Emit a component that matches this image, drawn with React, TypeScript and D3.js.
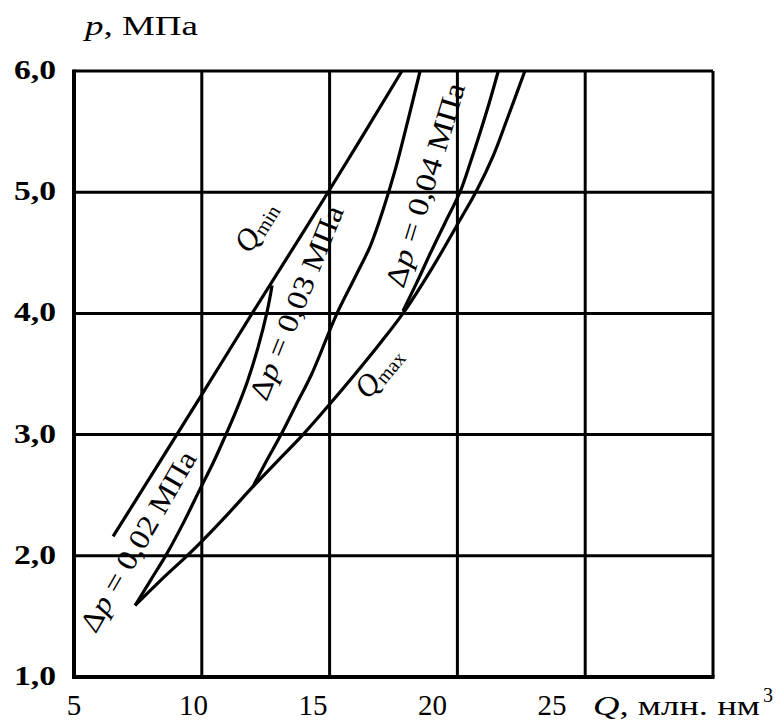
import * as d3 from "d3";

// curves, [Q, p]
const Q_MIN: [number, number][] = [
  [6.53, 2.16], [10, 3.33], [12, 4.01], [15, 5.02], [17.83, 6.0],
];
const DP_002: [number, number][] = [
  [7.39, 1.59], [8.0, 1.8], [8.64, 2.02], [9.3, 2.28], [9.93, 2.55], [10.45, 2.77], [10.9, 2.98],
  [11.35, 3.2], [11.77, 3.43], [12.2, 3.72], [12.55, 4.01], [12.75, 4.23],
];
const DP_003: [number, number][] = [
  [12.0, 2.57], [12.55, 2.79], [13.1, 3.0], [13.7, 3.25], [14.3, 3.5], [15.29, 4.0], [16.0, 4.3],
  [16.6, 4.56], [17.1, 4.86], [17.56, 5.18], [18.05, 5.58], [18.54, 6.0],
];
const DP_004: [number, number][] = [
  [17.87, 4.02], [18.4, 4.25], [18.95, 4.5], [19.5, 4.74], [20.1, 5.0], [20.5, 5.24], [20.9, 5.5],
  [21.25, 5.74], [21.6, 6.0],
];
const Q_MAX: [number, number][] = [
  [7.39, 1.59], [8.4, 1.8], [9.42, 2.0], [10, 2.12], [11, 2.34], [12, 2.57], [13, 2.79], [13.96, 3.0],
  [15, 3.25], [16, 3.5], [17, 3.76], [17.87, 4.0], [19, 4.37], [20.1, 4.77], [20.77, 5.02],
  [21.4, 5.3], [21.94, 5.6], [22.64, 6.0],
];

const GRID_Q = [5, 10, 15, 20, 25, 30];
const GRID_P = [1, 2, 3, 4, 5, 6];
const TICK_Q = [5, 10, 15, 20, 25];

// labels along the curves: value, anchor in data units, angle
const DP_LABELS = [
  { value: "0,02", q: 7.5, p: 2.12, angle: -60, len: 204 },
  { value: "0,03", q: 13.69, p: 4.09, angle: -68, len: 207 },
  { value: "0,04", q: 18.73, p: 5.06, angle: -73, len: 212 },
];
const Q_LABELS = [
  { main: "Q", sub: "min", q: 12.08, p: 4.72, angle: -58 },
  { main: "Q", sub: "max", q: 16.89, p: 3.52, angle: -50 },
];

const FONT = "'Liberation Serif', 'Times New Roman', serif";

export default function App() {
  const width = 779;
  const height = 722;
  const plot = { left: 74, right: 713, top: 71, bottom: 677 };

  const x = d3.scaleLinear().domain([5, 30]).range([plot.left, plot.right]);
  const y = d3.scaleLinear().domain([1, 6]).range([plot.bottom, plot.top]);
  // the printed numbers under the axis sit a bit off the grid lines
  const tickX = d3.scaleLinear().domain([5, 25]).range([74, 552]);

  const line = d3
    .line<[number, number]>()
    .x((d) => x(d[0]))
    .y((d) => y(d[1]))
    .curve(d3.curveCatmullRom.alpha(0.5));

  const curves = [Q_MIN, DP_002, DP_003, DP_004, Q_MAX];

  return (
    <svg
      width={width}
      height={height}
      style={{ position: "absolute", left: 0, top: 0, background: "#fff" }}
      fontFamily={FONT}
    >
      <rect width={width} height={height} fill="#fff" />

      {/* grid */}
      {GRID_Q.map((q) => (
        <line key={"gq" + q} x1={x(q)} x2={x(q)} y1={y(1)} y2={y(6)} stroke="#000" strokeWidth={3} />
      ))}
      {GRID_P.map((p) => (
        <line key={"gp" + p} x1={x(5)} x2={x(30)} y1={y(p)} y2={y(p)} stroke="#000" strokeWidth={3} />
      ))}
      {/* heavier frame on left and bottom */}
      <line x1={x(5)} x2={x(5)} y1={y(1) + 2} y2={y(6) - 1.5} stroke="#000" strokeWidth={4} />
      <line x1={x(5) - 2} x2={x(30) + 1.5} y1={y(1)} y2={y(1)} stroke="#000" strokeWidth={4} />

      {/* curves */}
      {curves.map((c, i) => (
        <path key={i} d={line(c) ?? ""} fill="none" stroke="#000" strokeWidth={3.2} strokeLinejoin="round" />
      ))}

      {/* y tick labels */}
      {GRID_P.map((p) => (
        <text
          key={"ty" + p}
          x={56}
          y={y(p) + 8}
          textAnchor="end"
          fontSize={28}
          fontWeight="bold"
          textLength={42}
          lengthAdjust="spacingAndGlyphs"
        >
          {d3.format(".1f")(p).replace(".", ",")}
        </text>
      ))}

      {/* x tick labels */}
      {TICK_Q.map((q) => (
        <text key={"tx" + q} x={tickX(q)} y={715} textAnchor="middle" fontSize={29}>
          {q}
        </text>
      ))}

      {/* axis titles */}
      <text x={85} y={35} fontSize={27} textLength={113} lengthAdjust="spacingAndGlyphs">
        <tspan fontStyle="italic">p</tspan>, МПа
      </text>
      <text x={593} y={715} fontSize={27} textLength={167} lengthAdjust="spacingAndGlyphs">
        <tspan fontStyle="italic">Q</tspan>, млн. нм
      </text>
      <text x={763} y={702} fontSize={20}>
        3
      </text>

      {/* curve labels */}
      {DP_LABELS.map((l) => (
        <text
          key={l.value}
          transform={`translate(${x(l.q)},${y(l.p)}) rotate(${l.angle})`}
          textAnchor="middle"
          dominantBaseline="central"
          fontSize={29}
          textLength={l.len}
          lengthAdjust="spacingAndGlyphs"
        >
          Δ<tspan fontStyle="italic">p</tspan> = {l.value} МПа
        </text>
      ))}
      {Q_LABELS.map((l) => (
        <text
          key={l.sub}
          transform={`translate(${x(l.q)},${y(l.p)}) rotate(${l.angle})`}
          textAnchor="middle"
          dominantBaseline="central"
          fontSize={31}
        >
          <tspan fontStyle="italic">{l.main}</tspan>
          <tspan fontSize={20} dy={7}>
            {l.sub}
          </tspan>
        </text>
      ))}
    </svg>
  );
}
